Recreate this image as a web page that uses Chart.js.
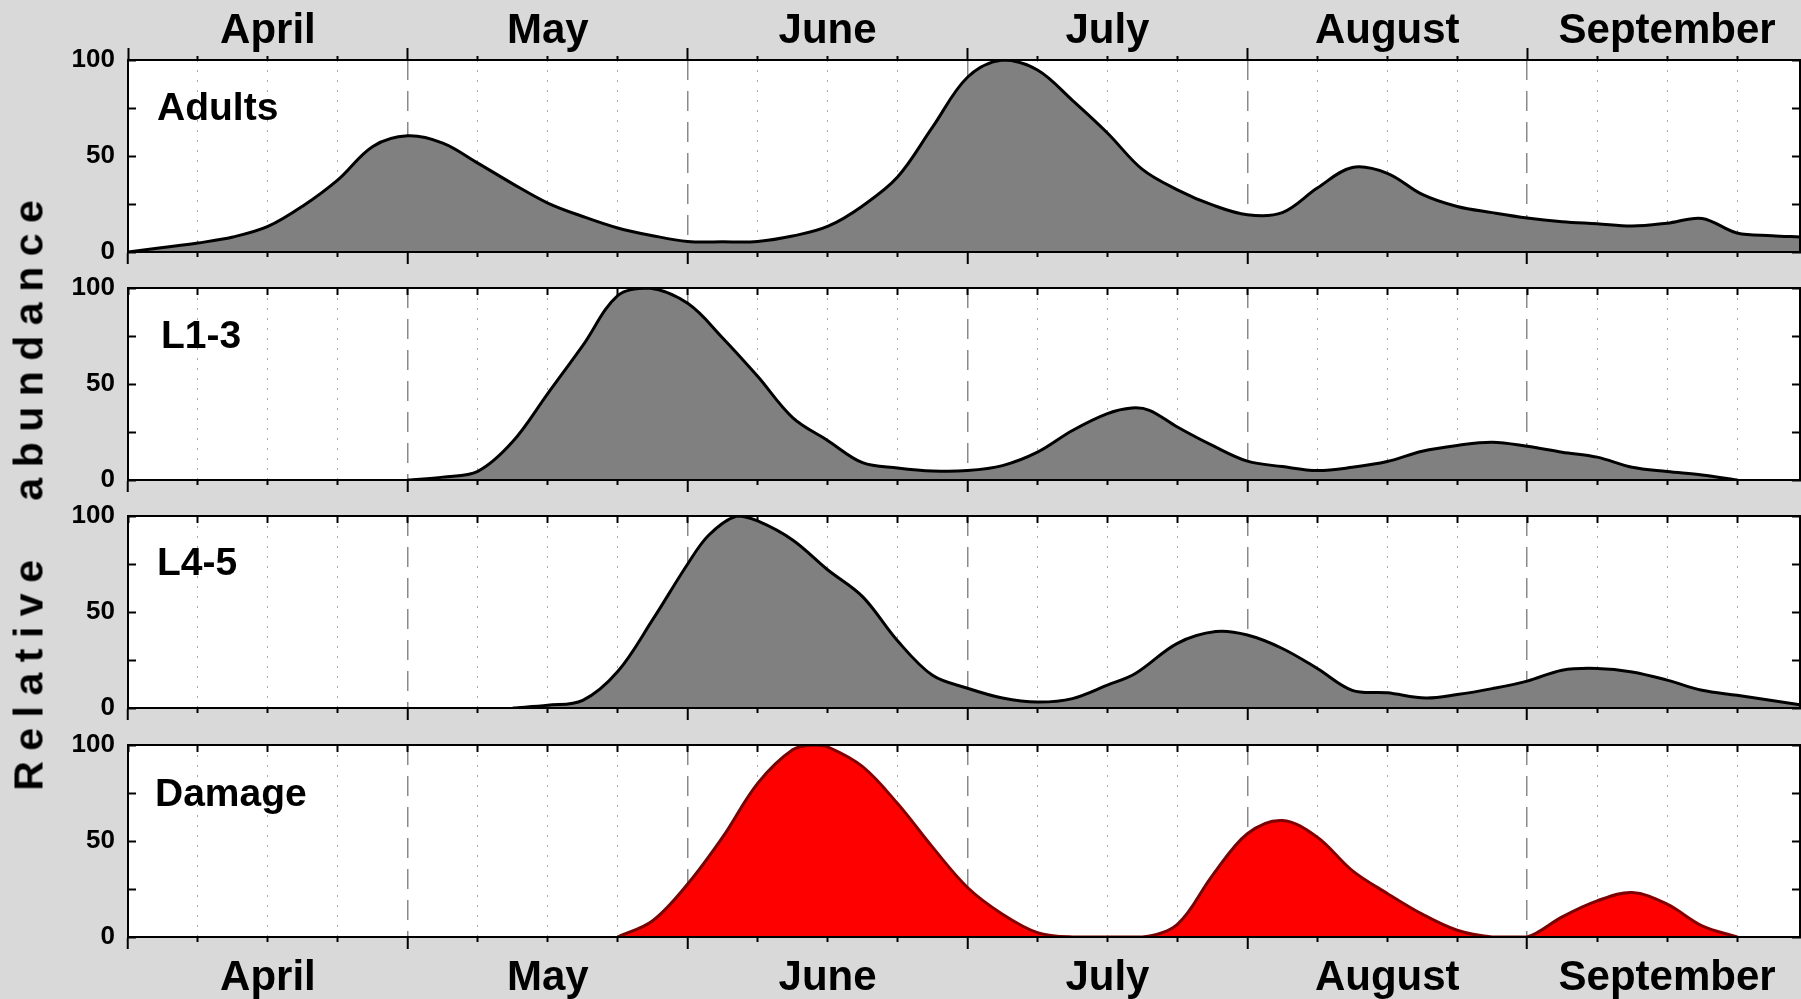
<!DOCTYPE html>
<html>
<head>
<meta charset="utf-8">
<title>Relative abundance</title>
<script src="https://cdn.jsdelivr.net/npm/chart.js@4.4.1/dist/chart.umd.min.js"></script>
<style>
  html, body { margin: 0; padding: 0; background: #d9d9d9; }
  body { width: 1801px; height: 999px; position: relative; overflow: hidden; font-family: 'Liberation Sans', Arial, sans-serif; }
  canvas { position: absolute; left: 0; }
  .panel-label { position: absolute; font-weight: bold; font-size: 39px; line-height: 39px; color: #000; z-index: 2; white-space: nowrap; }
  #yTitle {
    position: absolute; left: -321px; top: 475px; width: 700px; height: 41px;
    box-sizing: border-box; padding-left: 10.5px;
    font-size: 41px; line-height: 41px; font-weight: bold; color: #000;
    text-align: center; letter-spacing: 10.5px; word-spacing: 27px;
    transform: rotate(-90deg); white-space: nowrap; z-index: 2;
  }
</style>
</head>
<body>
<canvas id="p1" width="1801" height="272" style="top:0px"></canvas>
<canvas id="p2" width="1801" height="232" style="top:268px"></canvas>
<canvas id="p3" width="1801" height="232" style="top:496px"></canvas>
<canvas id="p4" width="1801" height="274" style="top:725px"></canvas>

<div class="panel-label" style="left:157px; top:87px">Adults</div>
<div class="panel-label" style="left:161px; top:315px">L1-3</div>
<div class="panel-label" style="left:157px; top:542px">L4-5</div>
<div class="panel-label" style="left:155px; top:773px">Damage</div>
<div id="yTitle">Relative abundance</div>

<script>
// x is in quarter-month steps counted from 1 April (month boundaries every 4 steps)
const MONTHS = ['April', 'May', 'June', 'July', 'August', 'September'];
const X_MAX = 23.9;

const ADULTS_X = [0, 0.5, 1, 1.5, 2, 2.5, 3, 3.5, 4, 4.5, 5, 5.5, 6, 6.5, 7, 7.5, 8, 8.5, 9, 9.5, 10, 10.5, 11, 11.5, 12, 12.5, 13, 13.5, 14, 14.5, 15, 15.5, 16, 16.5, 17, 17.5, 18, 18.5, 19, 19.5, 20, 20.5, 21, 21.5, 22, 22.5, 23, 23.5, 23.9];
const ADULTS_Y = [0, 2.3, 4.7, 7.8, 13.3, 24, 37.6, 55, 60.5, 56.7, 46.3, 35.5, 25.5, 18.5, 12.5, 8.5, 5.5, 5.3, 5.5, 8.3, 13.3, 24, 39, 65, 91, 100, 94.8, 79, 62, 43, 32.4, 24.5, 19.4, 20.5, 33.3, 44, 41, 30, 23.7, 20.5, 17.7, 15.8, 14.7, 13.5, 15, 17.5, 9.9, 8.5, 7.8];

const L13_X = [4, 4.5, 5, 5.5, 6, 6.5, 7, 7.45, 8, 8.5, 9, 9.5, 10, 10.5, 11, 11.5, 12, 12.5, 13, 13.5, 14, 14.35, 14.6, 15, 15.5, 16, 16.5, 17, 17.5, 18, 18.5, 19, 19.5, 20, 20.5, 21, 21.5, 22, 22.5, 23];
const L13_Y = [0, 1.5, 4.5, 20, 45, 70, 96, 100, 92, 74, 54, 32.5, 20.6, 9, 6.3, 4.7, 4.9, 7.5, 14.5, 25.8, 34.6, 37.5, 36.3, 27.6, 18, 9.8, 7, 4.9, 6.6, 9.6, 15, 18, 19.7, 17.6, 14.5, 11.9, 6.6, 4.4, 2.6, 0];

const L45_X = [5.5, 6, 6.5, 7, 7.5, 8, 8.3, 8.7, 9, 9.5, 10, 10.5, 11, 11.5, 12, 12.5, 13, 13.5, 14, 14.4, 15, 15.55, 16, 16.5, 17, 17.5, 18, 18.55, 19, 19.5, 20, 20.5, 21, 21.5, 22, 22.5, 23, 23.9];
const L45_Y = [0, 1.4, 4, 19, 46, 75, 90, 100, 97.4, 87.5, 72, 58, 35, 17, 10.3, 5.2, 3.1, 4.9, 11.9, 18, 33.7, 39.8, 38, 31, 20.6, 9.2, 7.9, 5.2, 7, 10.1, 14, 19.7, 20.6, 18.8, 14.5, 9.2, 6.6, 1.7];

const DAMAGE_X = [7, 7.5, 8, 8.5, 9, 9.5, 9.8, 10, 10.5, 11, 11.5, 12, 12.5, 13, 13.5, 14.5, 15, 15.5, 16, 16.5, 17, 17.5, 18, 18.5, 19, 19.5, 20, 20.5, 21, 21.5, 22, 22.5, 23];
const DAMAGE_Y = [0, 8.5, 27.6, 52, 80, 97.5, 100, 99, 88.7, 69.5, 46.8, 25.8, 11.9, 2.3, 0, 0, 6.6, 32, 53.8, 60.7, 52, 34.6, 22.7, 11.9, 3.5, 0, 0, 10.5, 18.8, 23.2, 17.1, 5.8, 0];

const FONT = "'Liberation Sans', Arial, sans-serif";
const WEEK_TICKS = Array.from({ length: 24 }, (_, i) => i);

function isMonthEdge(c) {
  return c.tick && c.tick.value % 4 === 0;
}

function monthLabel(value) {
  return value % 4 === 2 ? MONTHS[(value - 2) / 4] : '';
}

function setWeekTicks(scale) {
  scale.ticks = WEEK_TICKS.map(v => ({ value: v }));
}

// keep the y axes from pushing the plot area in (their labels may overhang)
function fixWidth(w) {
  return s => {
    s.width = w;
    s.paddingTop = 0;
    s.paddingBottom = 0;
  };
}

// white plot area on the grey page
const plotBackground = {
  id: 'plotBackground',
  beforeDraw(chart) {
    const { ctx, chartArea: a } = chart;
    ctx.save();
    ctx.fillStyle = '#ffffff';
    ctx.fillRect(a.left, a.top, a.width, a.height);
    ctx.restore();
  }
};

function drawPanel(id, xs, ys, look) {
  const points = xs.map((x, i) => ({ x, y: ys[i] }));
  const monthFont = { family: FONT, size: 42, weight: 'bold', lineHeight: 1 };

  return new Chart(document.getElementById(id), {
    type: 'line',
    data: {
      datasets: [{
        data: points,
        xAxisID: 'x',
        yAxisID: 'y',
        fill: 'origin',
        backgroundColor: look.fill,
        borderColor: look.line,
        borderWidth: 3,
        pointRadius: 0,
        tension: 0.35
      }]
    },
    options: {
      responsive: false,
      animation: false,
      events: [],
      layout: { padding: 0, autoPadding: false },
      plugins: { legend: { display: false }, tooltip: { enabled: false } },
      scales: {
        x: {
          type: 'linear', position: 'bottom', min: 0, max: X_MAX,
          afterBuildTicks: setWeekTicks,
          afterFit: s => { s.height = look.bottomH; s.paddingLeft = 0; s.paddingRight = 0; },
          ticks: {
            display: look.bottomLabels, autoSkip: false, maxRotation: 0, minRotation: 0,
            padding: 8, color: '#000', font: monthFont, callback: monthLabel
          },
          grid: {
            drawOnChartArea: true,
            tickLength: 12,
            color: c => isMonthEdge(c) ? '#8a8a8a' : '#a8a8a8',
            lineWidth: c => isMonthEdge(c) ? 1.5 : 1,
            tickColor: '#000',
            tickWidth: 2,
            tickBorderDash: c => isMonthEdge(c) ? [] : [4, 40]
          },
          border: {
            color: '#000', width: 2, z: 1,
            dash: c => c.tick ? (isMonthEdge(c) ? [20, 11] : [2, 8]) : []
          }
        },
        xTop: {
          type: 'linear', position: 'top', min: 0, max: X_MAX,
          afterBuildTicks: setWeekTicks,
          afterFit: s => { s.height = look.topH; s.paddingLeft = 0; s.paddingRight = 0; },
          ticks: {
            display: look.topLabels, autoSkip: false, maxRotation: 0, minRotation: 0,
            padding: -4, color: '#000', font: monthFont, callback: monthLabel
          },
          grid: {
            drawOnChartArea: false,
            tickLength: look.topLabels ? 12 : -7,
            tickColor: '#000',
            tickWidth: 2,
            tickBorderDash: c => (look.topLabels && !isMonthEdge(c)) ? [0, 8, 4, 40] : []
          },
          border: { color: '#000', width: 2, z: 1 }
        },
        y: {
          position: 'left', min: 0, max: 100,
          afterFit: fixWidth(128),
          ticks: {
            stepSize: 25, padding: 21, color: '#000',
            font: { family: FONT, size: 26, weight: 'bold' },
            callback: v => v % 50 === 0 ? v : ''
          },
          grid: { drawOnChartArea: false, tickLength: -8, tickColor: '#000', tickWidth: 2 },
          border: { color: '#000', width: 2, z: 1 }
        },
        yRight: {
          position: 'right', min: 0, max: 100,
          afterFit: fixWidth(1),
          ticks: { display: false, stepSize: 25 },
          grid: { drawOnChartArea: false, tickLength: -8, tickColor: '#000', tickWidth: 2 },
          border: { color: '#000', width: 2, z: 1 }
        }
      }
    },
    plugins: [plotBackground]
  });
}

const GREY = { fill: '#808080', line: '#000000' };

drawPanel('p1', ADULTS_X, ADULTS_Y, { ...GREY, topH: 60, topLabels: true, bottomH: 20, bottomLabels: false });
drawPanel('p2', L13_X, L13_Y, { ...GREY, topH: 20, topLabels: false, bottomH: 20, bottomLabels: false });
drawPanel('p3', L45_X, L45_Y, { ...GREY, topH: 20, topLabels: false, bottomH: 20, bottomLabels: false });
drawPanel('p4', DAMAGE_X, DAMAGE_Y, { fill: '#ff0000', line: '#7f0000', topH: 20, topLabels: false, bottomH: 62, bottomLabels: true });
</script>
</body>
</html>
